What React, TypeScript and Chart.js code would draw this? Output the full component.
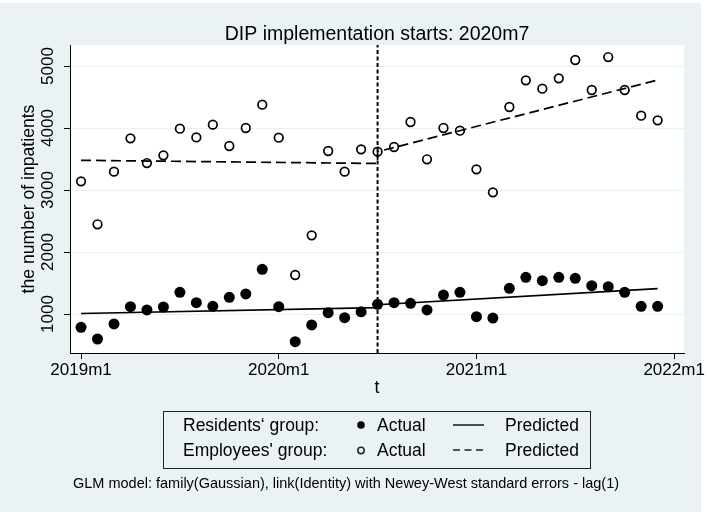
import { useEffect, useRef } from "react";
import { Chart, registerables } from "chart.js";

Chart.register(...registerables);

// ---- data (month index 0 = 2019m1) ----
const MONTHS: number[] = Array.from({ length: 36 }, (_, i) => i);
const RESIDENTS_ACTUAL: number[] = [
  785, 597, 839, 1118, 1065, 1113, 1350, 1182, 1124, 1269, 1323, 1720,
  1118, 553, 823, 1021, 940, 1035, 1156, 1182, 1172, 1065, 1306, 1350,
  957, 935, 1414, 1592, 1538, 1592, 1575, 1457, 1441, 1350, 1124, 1124,
];
const EMPLOYEES_ACTUAL: number[] = [
  3140, 2447, 3296, 3833, 3435, 3559, 3989, 3849, 4054, 3710, 4000, 4376,
  3844, 1629, 2269, 3629, 3296, 3656, 3618, 3694, 4097, 3495, 4000, 3957,
  3333, 2962, 4339, 4769, 4634, 4801, 5097, 4613, 5145, 4613, 4199, 4124,
];
// predicted (fitted) segment end points: [month, value]
const RESIDENTS_PRED: [number, number][] = [
  [0, 1008], [18, 1104], [18, 1150], [35, 1410],
];
const EMPLOYEES_PRED: [number, number][] = [
  [0, 3479], [18, 3428], [18, 3618], [35, 4774],
];
const BREAK_MONTH = 18; // 2020m7
const X_TICKS: number[] = [0, 12, 24, 36];
const X_TICK_LABELS: string[] = ["2019m1", "2020m1", "2021m1", "2022m1"];
const Y_TICKS: number[] = [1000, 2000, 3000, 4000, 5000];
const X_MIN = -0.67;
const X_MAX = 36.6;
const Y_MIN = 371;
const Y_MAX = 5339;

const TITLE = "DIP implementation starts: 2020m7";
const Y_TITLE = "the number of inpatients";
const X_TITLE = "t";
const LEGEND_ROWS: string[] = ["Residents\u2018 group:", "Employees' group:"];
const LEGEND_ACTUAL = "Actual";
const LEGEND_PRED = "Predicted";
const FOOTNOTE =
  "GLM model: family(Gaussian), link(Identity) with Newey-West standard errors - lag(1)";

const FONT = "'Liberation Sans', Arial, sans-serif";
const BG = "#eaf2f3";
const GRID = "#e8f0f1";

const stataPlugin = {
  id: "stataDecor",
  beforeDraw(chart: any) {
    const ctx = chart.ctx as CanvasRenderingContext2D;
    const a = chart.chartArea;
    ctx.save();
    ctx.fillStyle = "#ffffff";
    ctx.fillRect(0, 0, chart.width, chart.height);
    ctx.fillStyle = BG;
    ctx.fillRect(0, 3, chart.width - 9, chart.height - 12);
    ctx.fillStyle = "#ffffff";
    ctx.fillRect(a.left, a.top, a.right - a.left, a.bottom - a.top);
    ctx.restore();
  },
  afterDraw(chart: any) {
    const ctx = chart.ctx as CanvasRenderingContext2D;
    const a = chart.chartArea;
    const yScale = chart.scales.y;
    const cx = (a.left + a.right) / 2;
    ctx.save();
    ctx.fillStyle = "#000";
    ctx.textBaseline = "alphabetic";

    // title
    ctx.font = `19.5px ${FONT}`;
    ctx.textAlign = "center";
    ctx.fillText(TITLE, cx, 40);

    // y tick labels (rotated, Stata style)
    ctx.font = `17px ${FONT}`;
    yScale.ticks.forEach((t: any) => {
      const py = yScale.getPixelForValue(t.value);
      ctx.save();
      ctx.translate(a.left - 17, py);
      ctx.rotate(-Math.PI / 2);
      ctx.textAlign = "center";
      ctx.fillText(String(t.value), 0, 0);
      ctx.restore();
    });

    // y title
    ctx.font = `17.6px ${FONT}`;
    ctx.save();
    ctx.translate(33.5, (a.top + a.bottom) / 2);
    ctx.rotate(-Math.PI / 2);
    ctx.textAlign = "center";
    ctx.fillText(Y_TITLE, 0, 0);
    ctx.restore();

    // x title
    ctx.textAlign = "center";
    ctx.fillText(X_TITLE, cx, a.bottom + 40);

    // legend box
    ctx.font = `17.5px ${FONT}`;
    const bx = 163.5, by = 411.5, bw = 427, bh = 57;
    ctx.strokeStyle = "#222";
    ctx.lineWidth = 1;
    ctx.strokeRect(bx, by, bw, bh);
    ctx.textAlign = "left";
    const rowY = [431, 456];
    LEGEND_ROWS.forEach((label, r) => {
      const y = rowY[r];
      ctx.fillText(label, 183, y);
      // marker
      ctx.beginPath();
      if (r === 0) {
        ctx.arc(361, y - 6, 3.8, 0, Math.PI * 2);
        ctx.fill();
      } else {
        ctx.lineWidth = 1.5;
        ctx.arc(361, y - 5.5, 3.2, 0, Math.PI * 2);
        ctx.stroke();
      }
      ctx.fillText(LEGEND_ACTUAL, 377, y);
      // line
      ctx.beginPath();
      ctx.lineWidth = 1.6;
      ctx.setLineDash(r === 0 ? [] : [7, 4.5]);
      ctx.moveTo(453, y - 6);
      ctx.lineTo(484, y - 6);
      ctx.stroke();
      ctx.setLineDash([]);
      ctx.fillText(LEGEND_PRED, 505, y);
    });

    // footnote
    ctx.font = `14.5px ${FONT}`;
    ctx.textAlign = "left";
    ctx.fillText(FOOTNOTE, 73, 487.5);
    ctx.restore();
  },
};

export default function App() {
  const ref = useRef<HTMLCanvasElement | null>(null);

  useEffect(() => {
    if (!ref.current) return;
    const resPts = MONTHS.map((m, i) => ({ x: m, y: RESIDENTS_ACTUAL[i] }));
    const empPts = MONTHS.map((m, i) => ({ x: m, y: EMPLOYEES_ACTUAL[i] }));
    const resPred = RESIDENTS_PRED.map(([x, y]) => ({ x, y }));
    const empPred = EMPLOYEES_PRED.map(([x, y]) => ({ x, y }));

    const chart = new Chart(ref.current, {
      type: "scatter",
      data: {
        datasets: [
          {
            label: "Residents actual",
            data: resPts,
            pointRadius: 5.5,
            pointBackgroundColor: "#000",
            pointBorderWidth: 0,
            pointBorderColor: "#000",
            showLine: false,
          },
          {
            label: "Employees actual",
            data: empPts,
            pointRadius: 4.3,
            pointBackgroundColor: "rgba(0,0,0,0)",
            pointBorderColor: "#000",
            pointBorderWidth: 1.7,
            showLine: false,
          },
          {
            type: "line",
            label: "Residents predicted",
            data: resPred,
            borderColor: "#000",
            borderWidth: 1.7,
            pointRadius: 0,
            fill: false,
            tension: 0,
          },
          {
            type: "line",
            label: "Employees predicted",
            data: empPred,
            borderColor: "#000",
            borderWidth: 1.7,
            borderDash: [10, 5],
            pointRadius: 0,
            fill: false,
            tension: 0,
          },
          {
            type: "line",
            label: "Break",
            data: [
              { x: BREAK_MONTH, y: Y_MIN },
              { x: BREAK_MONTH, y: Y_MAX },
            ],
            borderColor: "#000",
            borderWidth: 2,
            borderDash: [4, 2.5],
            pointRadius: 0,
            fill: false,
          },
        ],
      } as any,
      options: {
        animation: false,
        responsive: false,
        devicePixelRatio: 1,
        layout: { padding: { top: 45, right: 26, left: 0, bottom: 0 } },
        plugins: {
          legend: { display: false },
          title: { display: false },
          tooltip: { enabled: false },
        },
        scales: {
          x: {
            type: "linear",
            min: X_MIN,
            max: X_MAX,
            afterBuildTicks: (s: any) => {
              s.ticks = X_TICKS.map((v) => ({ value: v }));
            },
            afterFit: (s: any) => {
              s.height = 168;
            },
            ticks: {
              autoSkip: false,
              maxRotation: 0,
              minRotation: 0,
              padding: 1,
              color: "#000",
              font: { family: FONT, size: 17 },
              callback: (v: any) => {
                const i = X_TICKS.indexOf(Number(v));
                return i >= 0 ? X_TICK_LABELS[i] : "";
              },
            },
            grid: {
              drawOnChartArea: false,
              drawTicks: true,
              tickLength: 6,
              color: "#000",
              tickColor: "#000",
              lineWidth: 1,
            },
            border: { display: true, color: "#000", width: 1 },
          },
          y: {
            type: "linear",
            min: Y_MIN,
            max: Y_MAX,
            afterBuildTicks: (s: any) => {
              s.ticks = Y_TICKS.map((v) => ({ value: v }));
            },
            afterFit: (s: any) => {
              s.width = 70;
            },
            ticks: { display: false },
            grid: {
              drawOnChartArea: true,
              drawTicks: true,
              tickLength: 6,
              color: GRID,
              tickColor: "#000",
              lineWidth: 1,
            },
            border: { display: true, color: "#000", width: 1 },
          },
        },
      } as any,
      plugins: [stataPlugin],
    });
    return () => chart.destroy();
  }, []);

  return (
    <div style={{ position: "absolute", left: 0, top: 0, width: 710, height: 521 }}>
      <canvas ref={ref} width={710} height={521} style={{ width: 710, height: 521, display: "block" }} />
    </div>
  );
}
